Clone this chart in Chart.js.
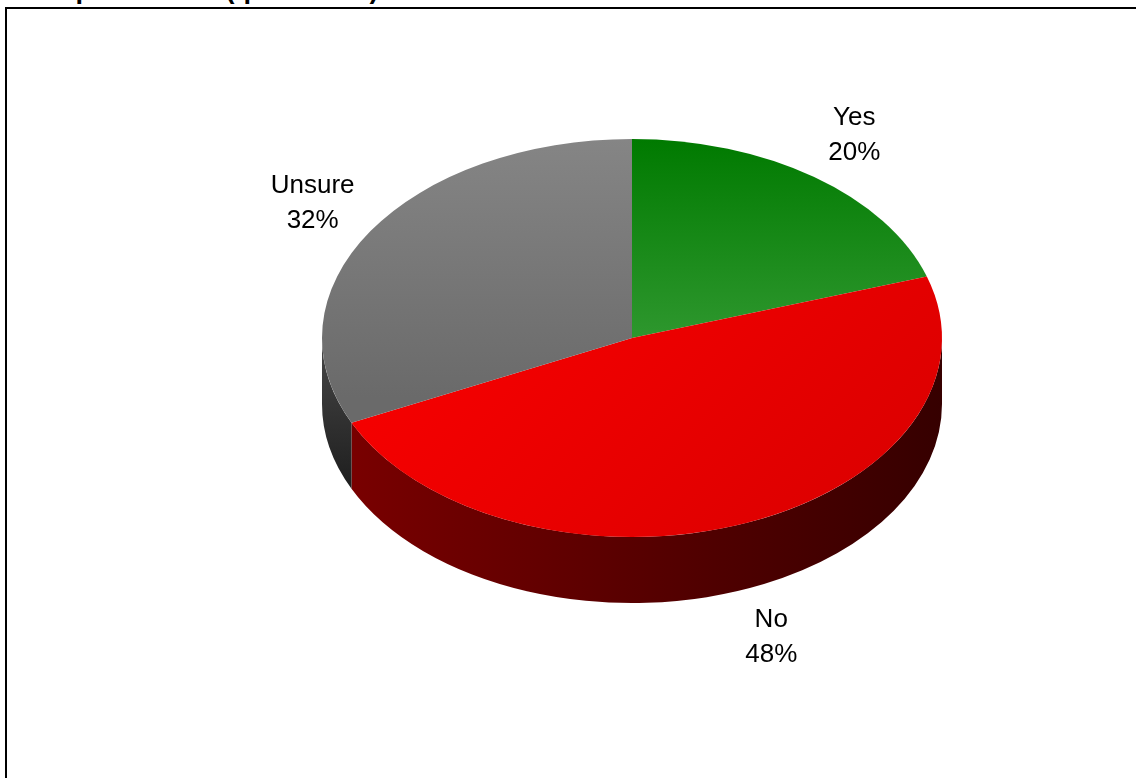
<!DOCTYPE html>
<html>
<head>
<meta charset="utf-8">
<script src="https://cdn.jsdelivr.net/npm/chart.js@4/dist/chart.umd.min.js"></script>
<style>
  html, body { margin: 0; padding: 0; background: #fff; overflow: hidden; }
  body { width: 1136px; height: 778px; position: relative; font-family: "Liberation Sans", Arial, sans-serif; }
  #title { position: absolute; left: 20px; top: -24px; font-weight: bold; font-size: 27px; line-height: 27px; white-space: nowrap; color: #000; }
  #frame { position: absolute; left: 5px; top: 7px; width: 1200px; height: 850px; border: 2px solid #000; background: #fff; }
  #wrap { position: absolute; left: 0; top: 0; width: 1136px; height: 778px; }
</style>
</head>
<body>
<div id="title">independence? (question 6)</div>
<div id="frame"></div>
<div id="wrap"><canvas id="chart"></canvas></div>
<script>
// Survey answers and their shares (percent)
const categories = ['Yes', 'No', 'Unsure'];
const shares = [20, 48, 32];

// Tilt of the pie (vertical squash of the top face) and thickness of the rim
const TILT = 0.642;
const DEPTH = 66;

function topGradient(ctx, chart, i) {
  const a = chart.chartArea;
  if (!a) return ['#138a13', '#ee0000', '#777777'][i];
  const cx = (a.left + a.right) / 2, cy = (a.top + a.bottom) / 2;
  const r = Math.min(a.right - a.left, a.bottom - a.top) / 2;
  let g;
  if (i === 0) {
    g = ctx.createLinearGradient(0, cy - r, 0, cy);
    g.addColorStop(0, '#007a00');
    g.addColorStop(1, '#2e972e');
  } else if (i === 1) {
    g = ctx.createLinearGradient(cx - r, cy - r * 0.3, cx + r, cy + r);
    g.addColorStop(0, '#fc0000');
    g.addColorStop(1, '#d80000');
  } else {
    g = ctx.createLinearGradient(0, cy - r, 0, cy + r * 0.3);
    g.addColorStop(0, '#858585');
    g.addColorStop(1, '#6a6a6a');
  }
  return g;
}

// Rim colours for the visible front side of each slice
function sideFill(ctx, i, cx, cy, r) {
  let g;
  if (i === 1) {
    g = ctx.createLinearGradient(cx - r, 0, cx + r, 0);
    g.addColorStop(0, '#7c0000');
    g.addColorStop(0.5, '#580000');
    g.addColorStop(1, '#360000');
  } else if (i === 2) {
    g = ctx.createLinearGradient(0, cy, 0, cy + r * TILT * 0.5 + DEPTH);
    g.addColorStop(0, '#474747');
    g.addColorStop(1, '#1a1a1a');
  } else {
    g = ctx.createLinearGradient(cx - r, 0, cx + r, 0);
    g.addColorStop(0, '#0c5a0c');
    g.addColorStop(1, '#053005');
  }
  return g;
}

const pie3d = {
  id: 'pie3d',
  beforeDatasetsDraw(chart) {
    const ctx = chart.ctx;
    const arcs = chart.getDatasetMeta(0).data;
    // draw the rim below the top face, for the front half only
    arcs.forEach((arc, i) => {
      const cx = arc.x, cy = arc.y, r = arc.outerRadius;
      const s = arc.startAngle, e = arc.endAngle;
      // front half is [0, PI] in each revolution the slice crosses
      for (let k = -1; k <= 1; k++) {
        const lo = Math.max(s, k * 2 * Math.PI);
        const hi = Math.min(e, k * 2 * Math.PI + Math.PI);
        if (hi <= lo) continue;
        ctx.save();
        ctx.beginPath();
        ctx.ellipse(cx, cy, r, r * TILT, 0, lo, hi, false);
        ctx.ellipse(cx, cy + DEPTH, r, r * TILT, 0, hi, lo, true);
        ctx.closePath();
        ctx.fillStyle = sideFill(ctx, i, cx, cy, r);
        ctx.fill();
        ctx.restore();
      }
    });
    // squash the pie face into an ellipse around its centre
    const c = arcs[0];
    ctx.save();
    ctx.translate(0, c.y);
    ctx.scale(1, TILT);
    ctx.translate(0, -c.y);
  },
  afterDatasetsDraw(chart) {
    const ctx = chart.ctx;
    ctx.restore();
    const arcs = chart.getDatasetMeta(0).data;
    const ds = chart.data.datasets[0];
    ctx.save();
    ctx.fillStyle = '#000';
    ctx.font = '26px "Liberation Sans", Arial, sans-serif';
    ctx.textAlign = 'center';
    ctx.textBaseline = 'middle';
    arcs.forEach((arc, i) => {
      const mid = (arc.startAngle + arc.endAngle) / 2;
      const lx = arc.x + arc.outerRadius * 1.22 * Math.cos(mid);
      let ly = arc.y + arc.outerRadius * 1.26 * TILT * Math.sin(mid);
      if (Math.sin(mid) > 0) ly += DEPTH;
      ctx.fillText(chart.data.labels[i], lx, ly - 17.5);
      ctx.fillText(ds.data[i] + '%', lx, ly + 17.5);
    });
    ctx.restore();
  }
};

new Chart(document.getElementById('chart'), {
  type: 'pie',
  data: {
    labels: categories,
    datasets: [{
      data: shares,
      backgroundColor: c => topGradient(c.chart.ctx, c.chart, c.dataIndex),
      borderWidth: 0,
      hoverOffset: 0,
      offset: 0
    }]
  },
  options: {
    responsive: true,
    maintainAspectRatio: false,
    animation: false,
    events: [],
    rotation: 0,
    layout: { padding: { left: 322, right: 194, top: 0, bottom: 102 } },
    plugins: {
      legend: { display: false },
      tooltip: { enabled: false },
      title: { display: false }
    }
  },
  plugins: [pie3d]
});
</script>
</body>
</html>
